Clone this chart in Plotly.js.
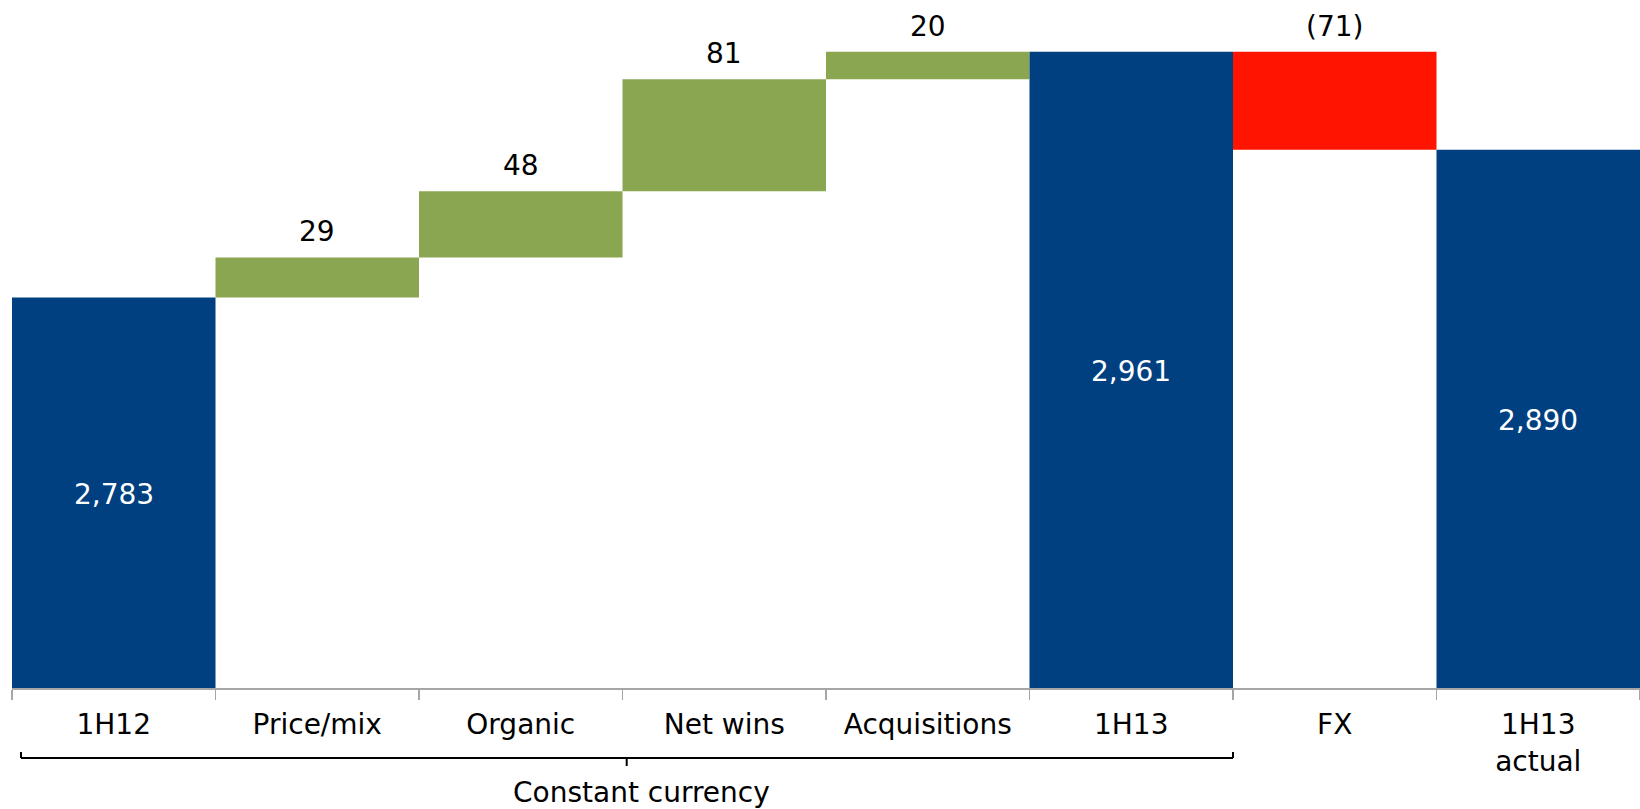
<!DOCTYPE html>
<html>
<head>
<meta charset="utf-8">
<script src="https://cdn.plot.ly/plotly-3.0.1.min.js"></script>
<style>
  html, body { margin: 0; padding: 0; background: #ffffff; }
  #chart { width: 1640px; height: 809px; }
</style>
</head>
<body>
<div id="chart"></div>
<script>
// ---- data ----
const categories = ['1H12', 'Price/mix', 'Organic', 'Net wins', 'Acquisitions', '1H13', 'FX', '1H13<br>actual'];
const measures = ['absolute', 'relative', 'relative', 'relative', 'relative', 'total', 'relative', 'total'];
const values = [2783, 29, 48, 81, 20, 0, -71, 0];
const groupLabel = 'Constant currency';
const yMin = 2500;
const yMax = 2998.5;

// ---- styling ----
const BLUE = '#004080';
const GREEN = '#8ba650';
const RED = '#ff1400';
const FONT = 'DejaVu Sans, Verdana, sans-serif';
const FS = 28;

// running totals from the data
const tops = [], bottoms = [], shown = [];
let run = 0;
for (let i = 0; i < values.length; i++) {
  if (measures[i] === 'absolute') {
    run = values[i];
    tops.push(run); bottoms.push(yMin); shown.push(run);
  } else if (measures[i] === 'total') {
    tops.push(run); bottoms.push(yMin); shown.push(run);
  } else {
    const prev = run;
    run += values[i];
    tops.push(Math.max(prev, run)); bottoms.push(Math.min(prev, run)); shown.push(values[i]);
  }
}

const fmt = v => v.toLocaleString('en-US');

const annotations = [];
for (let i = 0; i < values.length; i++) {
  const isTotal = measures[i] !== 'relative';
  if (isTotal) {
    annotations.push({
      x: i, y: (tops[i] + bottoms[i]) / 2, xref: 'x', yref: 'y',
      text: fmt(shown[i]), showarrow: false,
      font: { family: FONT, size: FS, color: '#ffffff' },
      xanchor: 'center', yanchor: 'middle', yshift: -2
    });
  } else {
    const v = shown[i];
    annotations.push({
      x: i, y: tops[i], xref: 'x', yref: 'y',
      text: v < 0 ? '(' + fmt(-v) + ')' : fmt(v), showarrow: false,
      font: { family: FONT, size: FS, color: '#000000' },
      xanchor: 'center', yanchor: 'middle', yshift: 25.5
    });
  }
}

// bracket under the first six categories
const plotH = 688, plotL = 12, plotW = 1628;
const px2py = p => (plotH - p) / plotH;
const px2px = p => (p - plotL) / plotW;
const bx0 = px2px(21), bx1 = px2px(1233), bxm = px2px(626.7);
const byLine = px2py(758), byEnd = px2py(752), byTick = px2py(766);

annotations.push({
  x: px2px(641), y: px2py(792.5), xref: 'paper', yref: 'paper',
  text: groupLabel, showarrow: false,
  font: { family: FONT, size: FS, color: '#000000' },
  xanchor: 'center', yanchor: 'middle'
});

const lineStyle = { color: '#000000', width: 2 };
const shapes = [
  { type: 'line', xref: 'paper', yref: 'paper', x0: bx0, x1: bx1, y0: byLine, y1: byLine, line: lineStyle },
  { type: 'line', xref: 'paper', yref: 'paper', x0: bx0, x1: bx0, y0: byLine, y1: byEnd, line: lineStyle },
  { type: 'line', xref: 'paper', yref: 'paper', x0: bx1, x1: bx1, y0: byLine, y1: byEnd, line: lineStyle },
  { type: 'line', xref: 'paper', yref: 'paper', x0: bxm, x1: bxm, y0: byLine, y1: byTick, line: lineStyle }
];

const trace = {
  type: 'waterfall',
  x: categories,
  y: values,
  measure: measures,
  textinfo: 'none',
  connector: { visible: false },
  increasing: { marker: { color: GREEN, line: { width: 0 } } },
  decreasing: { marker: { color: RED, line: { width: 0 } } },
  totals: { marker: { color: BLUE, line: { width: 0 } } },
  hoverinfo: 'x+y'
};

const layout = {
  width: 1640, height: 809,
  margin: { l: plotL, r: 0, t: 0, b: 809 - plotH, pad: 0 },
  paper_bgcolor: '#ffffff', plot_bgcolor: '#ffffff',
  showlegend: false,
  waterfallgap: 0,
  font: { family: FONT, size: FS, color: '#000000' },
  xaxis: {
    type: 'category',
    range: [-0.5, categories.length - 0.5],
    showline: true, linecolor: '#a6a6a6', linewidth: 1.5,
    ticks: 'outside', tickson: 'boundaries', ticklen: 10, tickcolor: '#a6a6a6', tickwidth: 1.5,
    ticklabelstandoff: 11,
    showgrid: false, zeroline: false,
    tickfont: { family: FONT, size: FS, color: '#000000' },
    fixedrange: true
  },
  yaxis: {
    range: [yMin, yMax], visible: false, showgrid: false, zeroline: false, fixedrange: true
  },
  annotations: annotations,
  shapes: shapes
};

Plotly.newPlot('chart', [trace], layout, { displayModeBar: false, staticPlot: true });
</script>
</body>
</html>
